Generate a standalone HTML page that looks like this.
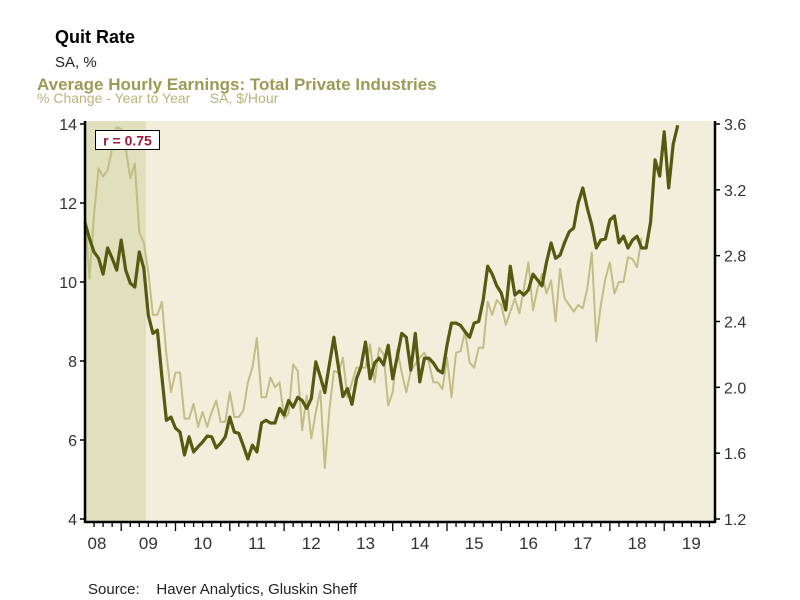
<!DOCTYPE html>
<html><head><meta charset="utf-8"><style>
html,body{margin:0;padding:0;background:#fff;width:800px;height:600px;overflow:hidden;font-family:"Liberation Sans",sans-serif}
text{white-space:pre}
</style></head><body>
<svg id="chart" width="800" height="600" xmlns="http://www.w3.org/2000/svg">
<text x="55" y="43" font-size="18" font-weight="bold" fill="#000">Quit Rate</text>
<text x="55" y="67" font-size="15" fill="#222">SA, %</text>
<text x="37" y="90" font-size="17" font-weight="bold" fill="#9c9a55">Average Hourly Earnings: Total Private Industries</text>
<text x="37" y="103" font-size="14" fill="#b8b47a" xml:space="preserve">% Change - Year to Year     SA, $/Hour</text>
<g id="plot"></g>
<text x="88" y="594" font-size="15" fill="#222" xml:space="preserve">Source:    Haver Analytics, Gluskin Sheff</text>
</svg>
<script>
const darkVals=[11.5,11.1,10.76,10.6,10.2,10.86,10.6,10.3,11.06,10.3,9.97,9.87,10.76,10.35,9.16,8.7,8.78,7.6,6.5,6.58,6.3,6.2,5.62,6.08,5.7,5.83,5.95,6.1,6.08,5.8,5.92,6.08,6.58,6.2,6.17,5.85,5.52,5.87,5.7,6.43,6.5,6.43,6.43,6.8,6.63,7.0,6.83,7.08,
7.0,6.8,7.05,7.98,7.6,7.2,7.9,8.6,7.85,7.1,7.3,6.9,7.55,7.85,8.48,7.55,7.95,8.07,7.9,8.4,7.55,8.1,8.7,8.6,7.77,8.7,7.47,8.07,8.07,7.95,7.77,7.7,8.4,8.96,8.96,8.9,8.74,8.6,8.96,9.0,9.55,10.4,10.2,9.9,9.72,
9.29,10.4,9.67,9.77,9.67,9.8,10.2,10.05,9.9,10.5,10.99,10.6,10.68,11.0,11.27,11.37,12.0,12.38,11.87,11.44,10.86,11.06,11.09,11.57,11.67,10.99,11.16,10.86,11.06,11.16,10.86,10.86,11.52,13.09,12.68,13.8,12.38,13.49,13.97];
const lightVals=[3.07,2.66,3.05,3.33,3.28,3.32,3.45,3.58,3.57,3.45,3.27,3.36,2.94,2.88,2.7,2.44,2.44,2.52,2.2,1.97,2.09,2.09,1.81,1.81,1.9,1.76,1.85,1.76,1.85,1.92,1.79,1.79,1.97,1.82,1.82,1.86,2.03,2.12,2.3,1.94,1.94,2.06,2.0,2.03,1.81,1.84,2.14,2.1,1.74,1.95,1.69,1.85,1.98,1.51,1.86,2.1,2.09,2.18,1.94,2.03,2.12,2.12,2.12,2.26,2.03,2.24,2.2,1.89,1.97,2.23,2.09,1.97,2.1,2.14,2.18,2.21,2.15,2.03,2.03,1.99,2.18,1.94,2.21,2.22,2.34,2.15,2.12,2.24,2.24,2.52,2.44,2.53,2.5,2.38,2.46,2.54,2.45,2.6,2.76,2.47,2.6,2.69,2.57,2.65,2.4,2.72,2.54,2.5,2.46,2.5,2.48,2.6,2.82,2.28,2.5,2.66,2.76,2.57,2.64,2.64,2.79,2.78,2.73,2.91];
const yearLabels=["08","09","10","11","12","13","14","15","16","17","18","19"];
const leftTicks=[4,6,8,10,12,14];
const rightTicks=[1.2,1.6,2.0,2.4,2.8,3.2,3.6];
const rightTickLabels=["1.2","1.6","2.0","2.4","2.8","3.2","3.6"];
const startMonth=4;
const recessionEnd=17.5;
const corrLabel="r = 0.75";

const NS="http://www.w3.org/2000/svg";
const X0=85,X1=715,Y0=121,Y1=522;
const pxPerMonth=54.3/12;
function xm(m){return X0+(m-startMonth)*pxPerMonth;}
function yl(v){return 124+(14-v)*39.5;}
function yr(v){return 124+(3.6-v)/2.4*395;}
const plot=document.getElementById('plot');
function el(tag,attrs,parent){const e=document.createElementNS(NS,tag);for(const k in attrs)e.setAttribute(k,attrs[k]);(parent||plot).appendChild(e);return e;}

let e=el('rect',{x:X0,y:Y0,width:X1-X0,height:Y1-Y0,fill:'#f3eedc'});


e=el('rect',{x:X0,y:Y0,width:xm(recessionEnd)-X0,height:Y1-Y0,fill:'#e0dfbe'});



function path(vals,yf,col,w,name){
  let d='';vals.forEach((v,i)=>{d+=(i?'L':'M')+xm(startMonth+i).toFixed(1)+','+yf(v).toFixed(1);});
  const p=el('path',{d:d,fill:'none',stroke:col,'stroke-width':w,'stroke-linejoin':'round'});
  
  
}
path(lightVals,yr,'#c2bd84',2,'earnings-line');
path(darkVals,yl,'#555a10',3.2,'quit-rate-line');

e=el('line',{x1:X0,y1:Y0,x2:X0,y2:Y1+1,stroke:'#000','stroke-width':2.5});


e=el('line',{x1:X1,y1:Y0,x2:X1,y2:Y1+1,stroke:'#000','stroke-width':2.5});


e=el('line',{x1:X0,y1:Y1,x2:X1,y2:Y1,stroke:'#000','stroke-width':2.5});



leftTicks.forEach(v=>{
  const t=el('line',{x1:X0-5,y1:yl(v),x2:X0,y2:yl(v),stroke:'#000','stroke-width':1.5});
  
  
  const l=el('text',{x:X0-8,y:yl(v)+6,'text-anchor':'end','font-size':16,fill:'#333'});
  l.textContent=v;
  
  
});
rightTicks.forEach((v,i)=>{
  const t=el('line',{x1:X1,y1:yr(v),x2:X1+5,y2:yr(v),stroke:'#000','stroke-width':1.5});
  
  
  const l=el('text',{x:X1+9,y:yr(v)+6,'font-size':16,fill:'#333'});
  l.textContent=rightTickLabels[i];
  
  
});
for(let m=startMonth+2;xm(m)<X1;m+=2){
  const major=m%12===0;
  const t=el('line',{x1:xm(m),y1:Y1,x2:xm(m),y2:Y1+(major?9:5),stroke:'#000','stroke-width':1.3});
  
  
}
yearLabels.forEach((s,i)=>{
  const cx=Math.max(xm(i*12+6),X0+12);
  const l=el('text',{x:cx,y:549,'text-anchor':'middle','font-size':17,fill:'#333'});
  l.textContent=s;
  
  
});
const g=el('g',{});


el('rect',{x:95.5,y:130.5,width:64,height:19,fill:'#fff',stroke:'#000','stroke-width':1},g);
const ct=el('text',{x:127.5,y:145.5,'text-anchor':'middle','font-size':14,'font-weight':'bold',fill:'#a0173b'},g);
ct.textContent=corrLabel;


</script>
</body></html>
